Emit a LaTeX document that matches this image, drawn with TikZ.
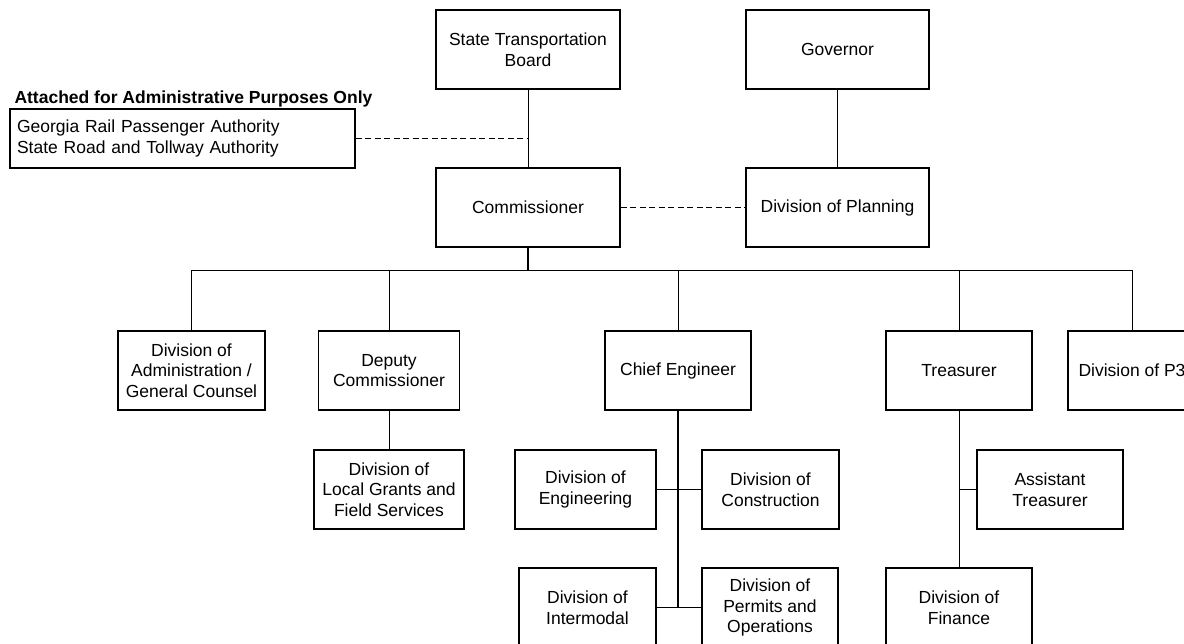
\documentclass[tikz,border=0pt]{standalone}
\usepackage{fontspec}
\setmainfont{Liberation Sans}
\begin{document}
\begin{tikzpicture}[x=1pt,y=-1pt,line cap=butt,
  box/.style={draw,line width=1.1pt,minimum height=79pt,align=center,inner sep=2pt,
    font=\fontsize{17.5}{20.7}\selectfont},
  link/.style={line width=1pt},
  dashlink/.style={line width=1pt,dash pattern=on 6pt off 3.5pt}]
  \useasboundingbox (0,0) rectangle (1184,644);

  % top row
  \node[box,minimum width=184pt] (stb) at (528,49.5) {State Transportation\\Board};
  \node[box,minimum width=183pt] (gov) at (837.5,49.5) {Governor};
  \node[box,minimum width=184pt] (comm) at (528,207.5) {Commissioner};
  \node[box,minimum width=183pt] (plan) at (837.5,207.5) {Division of Planning};

  % attached agencies
  \node[anchor=base west,font=\bfseries\fontsize{17.5}{20.7}\selectfont] (title) at (11,104)
    {Attached for Administrative Purposes Only};
  \node[box,minimum width=345pt,minimum height=59pt,align=left,text width=331pt,inner xsep=7pt]
    (attach) at (182.5,138.5) {Georgia Rail Passenger Authority\\State Road and Tollway Authority};

  % second row
  \node[box,minimum width=147pt] (admin) at (191.5,370.5) {Division of\\Administration /\\General Counsel};
  \node[box,minimum width=141pt] (deputy) at (389,370.5) {Deputy\\Commissioner};
  \node[box,minimum width=146pt] (chief) at (678,370.5) {Chief Engineer};
  \node[box,minimum width=146pt] (treas) at (959,370.5) {Treasurer};
  \node[box,minimum width=128pt] (ppp) at (1132,370.5) {Division of P3};

  % third row
  \node[box,minimum width=150pt] (grants) at (389,489.5) {Division of\\Local Grants and\\Field Services};
  \node[box,minimum width=141pt] (eng) at (585.5,489.5) {Division of\\Engineering};
  \node[box,minimum width=137pt] (constr) at (770.5,489.5) {Division of\\Construction};
  \node[box,minimum width=146pt] (asst) at (1050,489.5) {Assistant\\Treasurer};

  % bottom row
  \node[box,minimum width=137pt] (inter) at (587.5,607.5) {Division of\\Intermodal};
  \node[box,minimum width=136pt] (permits) at (770,607.5) {Division of\\Permits and\\Operations};
  \node[box,minimum width=146pt] (fin) at (959,607.5) {Division of\\Finance};

  % connectors
  \draw[link] (stb) -- (comm);
  \draw[link] (gov) -- (plan);
  \draw[dashlink] (attach.east) -- (attach.east -| stb.south);
  \draw[dashlink] (comm) -- (plan);

  \coordinate (bus) at (528,271);
  \draw[line width=1.8pt] (comm.south) -- (bus);
  \foreach \n in {admin,deputy,chief,treas,ppp}
    \draw[link] (\n.north) |- (bus);

  \draw[link] (deputy) -- (grants);
  \draw[line width=1.3pt] (chief.south) -- (chief.south |- inter.east);
  \draw[link] (eng) -- (constr);
  \draw[link] (inter) -- (permits);
  \draw[link] (treas) -- (fin);
  \draw[link] (asst.west) -- (asst.west -| treas.south);
\end{tikzpicture}
\end{document}
